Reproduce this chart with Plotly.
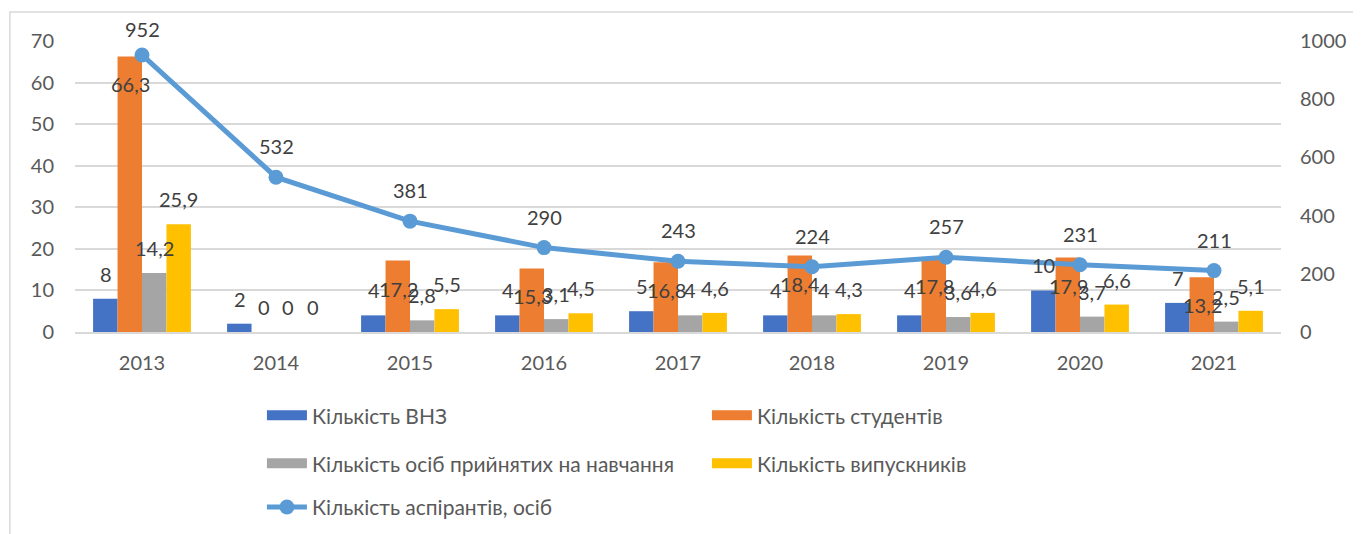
import plotly.graph_objects as go

# Дані
years = ["2013", "2014", "2015", "2016", "2017", "2018", "2019", "2020", "2021"]
vnz = [8, 2, 4, 4, 5, 4, 4, 10, 7]
students = [66.3, 0, 17.2, 15.3, 16.8, 18.4, 17.8, 17.9, 13.2]
admitted = [14.2, 0, 2.8, 3.1, 4, 4, 3.6, 3.7, 2.5]
graduates = [25.9, 0, 5.5, 4.5, 4.6, 4.3, 4.6, 6.6, 5.1]
aspirants = [952, 532, 381, 290, 243, 224, 257, 231, 211]

FONT = "Lato"
TXT = "#404040"
AX = "#595959"
GRID = "#d9d9d9"


def fmt(v):
    s = f"{v:g}"
    return s.replace(".", ",")


bar_series = [
    ("Кількість ВНЗ", vnz, "#4472C4", "legend"),
    ("Кількість студентів", students, "#ED7D31", "legend"),
    ("Кількість осіб прийнятих на навчання", admitted, "#A5A5A5", "legend2"),
    ("Кількість випускників", graduates, "#FFC000", "legend2"),
]

fig = go.Figure()

for name, vals, color, leg in bar_series:
    fig.add_trace(go.Bar(
        x=years, y=vals, name=name, marker_color=color,
        marker_line_width=0, showlegend=False, yaxis="y",
    ))
    # елемент легенди у вигляді широкого прямокутника, як в Excel
    fig.add_trace(go.Scatter(
        x=[None], y=[None], name=name, mode="lines", legend=leg,
        line=dict(color=color, width=12), hoverinfo="skip",
    ))

fig.add_trace(go.Scatter(
    x=years, y=aspirants, name="Кількість аспірантів, осіб",
    mode="lines+markers", yaxis="y2", legend="legend3",
    line=dict(color="#5B9BD5", width=5),
    marker=dict(color="#5B9BD5", size=15),
))

# Підписи значень стовпчиків (x — індекс категорії на осі)
offsets = [-36.5, -12, 12, 36.5]
annotations = []
for k, (name, vals, color, leg) in enumerate(bar_series):
    for i, v in enumerate(vals):
        # підписи студентів стоять усередині стовпчика, інші - над ним
        shift = -28 if (k == 1 and v > 0) else 25
        annotations.append(dict(
            x=i, y=v, xref="x", yref="y", text=fmt(v), showarrow=False,
            xshift=offsets[k], yshift=shift,
            yanchor="middle", font=dict(family=FONT, size=20, color=TXT),
        ))
# Підписи значень лінії
for i, v in enumerate(aspirants):
    annotations.append(dict(
        x=i, y=v, xref="x", yref="y2", text=fmt(v), showarrow=False,
        yshift=26 if v == max(aspirants) else 31,
        yanchor="middle", font=dict(family=FONT, size=20, color=TXT),
    ))

leg_common = dict(
    orientation="h", xanchor="left", yanchor="middle", entrywidth=390,
    entrywidthmode="pixels", font=dict(family=FONT, size=21, color=AX),
    bgcolor="rgba(0,0,0,0)", itemwidth=40, traceorder="normal",
)

# сторінка має відступ 8px, тому поля зсунуті
fig.update_layout(
    width=1361, height=534,
    margin=dict(l=67, r=88, t=33, b=210),
    paper_bgcolor="white", plot_bgcolor="white",
    barmode="group", bargap=0.27, bargroupgap=0,
    font=dict(family=FONT, color=AX),
    showlegend=True,
    legend=dict(x=0.155, y=-0.2875, **leg_common),
    legend2=dict(x=0.155, y=-0.4525, **leg_common),
    legend3=dict(x=0.155, y=-0.6025, **leg_common),
    annotations=annotations,
    xaxis=dict(
        type="category", range=[-0.5, len(years) - 0.5],
        showgrid=False, showline=True, linecolor=GRID,
        linewidth=1.5, ticks="", tickfont=dict(family=FONT, size=20, color=AX),
        ticklabelstandoff=12,
    ),
    yaxis=dict(
        range=[0, 70], dtick=10, showgrid=True, gridcolor=GRID, gridwidth=1.5,
        zeroline=False, showline=False, ticks="",
        tickfont=dict(family=FONT, size=20, color=AX), ticklabelstandoff=20,
    ),
    yaxis2=dict(
        range=[0, 1000], dtick=200, overlaying="y", side="right",
        showgrid=False, zeroline=False, showline=False, ticks="",
        tickfont=dict(family=FONT, size=20, color=AX), ticklabelstandoff=18,
    ),
    shapes=[dict(
        type="rect", xref="paper", yref="paper",
        x0=-0.054, x1=1.2, y0=-1.0, y1=1.0997,
        line=dict(color="#d9d9d9", width=1.5), fillcolor="rgba(0,0,0,0)",
        layer="below",
    )],
)

fig.write_html("out.html")
